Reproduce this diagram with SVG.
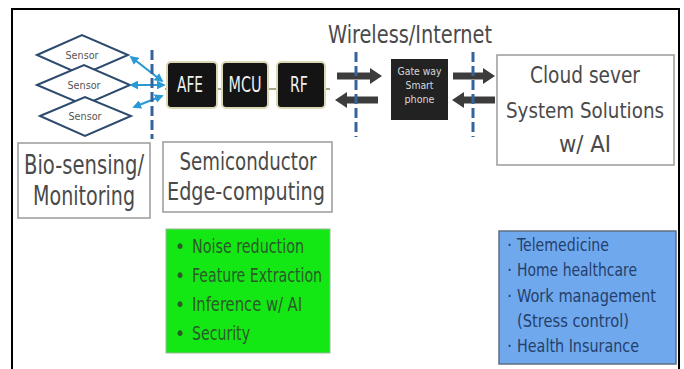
<svg xmlns="http://www.w3.org/2000/svg" width="684" height="369" viewBox="0 0 684 369">
<defs>
<style>
.t{font-family:"DejaVu Sans Condensed","DejaVu Sans","Liberation Sans",sans-serif;}
.lbl{fill:#4a4a4a;}
.box{fill:#fff;stroke:#9a9a9a;stroke-width:1.5;}
.dia{fill:#fff;stroke:#2c4a6e;stroke-width:2;}
.chip{fill:#141414;stroke:#dcd8b4;stroke-width:2;}
.dash{stroke:#35649c;stroke-width:3;stroke-dasharray:10 4;fill:none;}
.ga{fill:#3c3c3c;}
.ba{stroke:#2a9ad6;stroke-width:2.2;fill:none;marker-start:url(#ah);marker-end:url(#ah);}
</style>
<marker id="ah" viewBox="0 0 10 10" refX="8" refY="5" markerWidth="4" markerHeight="4" orient="auto-start-reverse">
<path d="M0,0 L10,5 L0,10 z" fill="#2a9ad6"/>
</marker>
</defs>
<rect x="0" y="0" width="684" height="369" fill="#fff"/>
<path d="M12,369 V9 H679 V369" fill="none" stroke="#000" stroke-width="2"/>

<g id="sensor1">
<polygon class="dia" points="37,55 82,35 128,55 82,75"/>
<text class="t" x="82" y="59" font-size="11" text-anchor="middle" fill="#555" textLength="33" lengthAdjust="spacingAndGlyphs">Sensor</text>
</g>
<g id="sensor2">
<polygon class="dia" points="37,85 84,65 130,85 84,105"/>
<text class="t" x="84" y="89" font-size="11" text-anchor="middle" fill="#555" textLength="33" lengthAdjust="spacingAndGlyphs">Sensor</text>
</g>
<g id="sensor3">
<polygon class="dia" points="40,116 85,97 131,116 85,136"/>
<text class="t" x="85" y="120" font-size="11" text-anchor="middle" fill="#555" textLength="33" lengthAdjust="spacingAndGlyphs">Sensor</text>
</g>

<g id="chips">
<path d="M165,89 H330" stroke="#8a8a6a" stroke-width="1.5"/>
<g id="afe">
<rect class="chip" x="167" y="62" width="50" height="46" rx="4"/>
<text class="t" x="190" y="92" font-size="21" text-anchor="middle" fill="#f0f0f0" textLength="26" lengthAdjust="spacingAndGlyphs">AFE</text>
</g>
<g id="mcu">
<rect class="chip" x="222" y="62" width="46" height="46" rx="4"/>
<text class="t" x="245" y="92" font-size="21" text-anchor="middle" fill="#f0f0f0" textLength="33" lengthAdjust="spacingAndGlyphs">MCU</text>
</g>
<g id="rf">
<rect class="chip" x="277" y="62" width="48" height="46" rx="4"/>
<text class="t" x="299" y="92" font-size="21" text-anchor="middle" fill="#f0f0f0" textLength="18" lengthAdjust="spacingAndGlyphs">RF</text>
</g>
</g>

<g id="gateway">
<rect x="391" y="59" width="57" height="61" fill="#222"/>
<text class="t" x="419.5" y="75" font-size="10.5" text-anchor="middle" fill="#d8d8d8" textLength="44" lengthAdjust="spacingAndGlyphs">Gate way</text>
<text class="t" x="419.5" y="89" font-size="10.5" text-anchor="middle" fill="#d8d8d8" textLength="28" lengthAdjust="spacingAndGlyphs">Smart</text>
<text class="t" x="419.5" y="103" font-size="10.5" text-anchor="middle" fill="#d8d8d8" textLength="30" lengthAdjust="spacingAndGlyphs">phone</text>
</g>

<g id="cloud">
<rect class="box" x="497" y="55" width="177" height="110"/>
<text class="t lbl" x="585" y="83" font-size="23" text-anchor="middle" textLength="110" lengthAdjust="spacingAndGlyphs">Cloud sever</text>
<text class="t lbl" x="585" y="118" font-size="21" text-anchor="middle" textLength="158" lengthAdjust="spacingAndGlyphs">System Solutions</text>
<text class="t lbl" x="585" y="152" font-size="23" text-anchor="middle" textLength="52" lengthAdjust="spacingAndGlyphs">w/ AI</text>
</g>

<g id="wireless-label">
<text class="t lbl" x="410" y="43" font-size="24" text-anchor="middle" textLength="164" lengthAdjust="spacingAndGlyphs">Wireless/Internet</text>
</g>

<g id="bio">
<rect class="box" x="18" y="143" width="132" height="75"/>
<text class="t lbl" x="84" y="174" font-size="26" text-anchor="middle" textLength="120" lengthAdjust="spacingAndGlyphs">Bio-sensing/</text>
<text class="t lbl" x="84" y="205" font-size="26" text-anchor="middle" textLength="102" lengthAdjust="spacingAndGlyphs">Monitoring</text>
</g>

<g id="semi">
<rect class="box" x="163" y="142" width="169" height="70"/>
<text class="t lbl" x="248" y="170" font-size="25" text-anchor="middle" textLength="137" lengthAdjust="spacingAndGlyphs">Semiconductor</text>
<text class="t lbl" x="246" y="200" font-size="25" text-anchor="middle" textLength="158" lengthAdjust="spacingAndGlyphs">Edge-computing</text>
</g>

<g id="edge-features">
<rect x="166" y="229" width="164" height="124" fill="#14e814" stroke="#9ab89a" stroke-width="1"/>
<g class="t" font-size="19" fill="#2a5a2a">
<text x="175" y="253">•</text>
<text x="192" y="253" textLength="112" lengthAdjust="spacingAndGlyphs">Noise reduction</text>
<text x="175" y="282">•</text>
<text x="192" y="282" textLength="130" lengthAdjust="spacingAndGlyphs">Feature Extraction</text>
<text x="175" y="311">•</text>
<text x="192" y="311" textLength="110" lengthAdjust="spacingAndGlyphs">Inference w/ AI</text>
<text x="175" y="340">•</text>
<text x="192" y="340" textLength="58" lengthAdjust="spacingAndGlyphs">Security</text>
</g>
</g>

<g id="applications">
<rect x="499" y="231" width="177" height="133" fill="#70a8ee" stroke="#5f6f80" stroke-width="1.5"/>
<g class="t" font-size="18" fill="#24406a">
<text x="507" y="251">·</text>
<text x="517" y="251" textLength="92" lengthAdjust="spacingAndGlyphs">Telemedicine</text>
<text x="507" y="276">·</text>
<text x="517" y="276" textLength="120" lengthAdjust="spacingAndGlyphs">Home healthcare</text>
<text x="507" y="302">·</text>
<text x="517" y="302" textLength="139" lengthAdjust="spacingAndGlyphs">Work management</text>
<text x="517" y="327" textLength="112" lengthAdjust="spacingAndGlyphs">(Stress control)</text>
<text x="507" y="352">·</text>
<text x="517" y="352" textLength="122" lengthAdjust="spacingAndGlyphs">Health Insurance</text>
</g>
</g>

<g id="connectors">
<line class="ba" x1="131" y1="57" x2="162" y2="81"/>
<line class="ba" x1="131" y1="85" x2="164" y2="85"/>
<line class="ba" x1="134" y1="107" x2="162" y2="96"/>
<polygon class="ga" points="337,72.5 370,72.5 370,68 382,76 370,84 370,79.5 337,79.5"/>
<polygon class="ga" points="335,100 347,92 347,96.5 378,96.5 378,103.5 347,103.5 347,108"/>
<polygon class="ga" points="453,72.5 483,72.5 483,68 495,76 483,84 483,79.5 453,79.5"/>
<polygon class="ga" points="452,100 464,92 464,96.5 495,96.5 495,103.5 464,103.5 464,108"/>
<line class="dash" x1="152" y1="50" x2="152" y2="139"/>
<line class="dash" x1="356" y1="52" x2="356" y2="137"/>
<line class="dash" x1="473" y1="52" x2="473" y2="137"/>
</g>
</svg>
